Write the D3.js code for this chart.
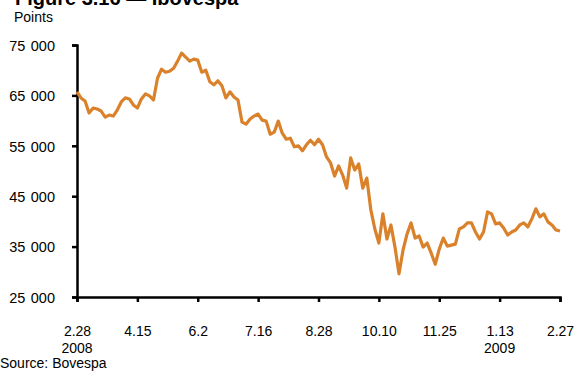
<!DOCTYPE html>
<html>
<head>
<meta charset="utf-8">
<script src="https://cdn.jsdelivr.net/npm/d3@7"></script>
<style>
  body { margin: 0; background: #fff; }
  svg { display: block; font-family: "Liberation Sans", Arial, sans-serif; }
  .axis path, .axis line { stroke: #000; stroke-width: 2.5; }
  .axis text { font-size: 14px; fill: #000; }
  .y-axis text { font-size: 14.5px; word-spacing: 1.5px; }
</style>
</head>
<body>
<svg id="chart"></svg>
<script>
// Ibovespa closing level, sampled every second trading day from 2.28.2008 to 2.27.2009
const values = [
  65700, 64500, 63900, 61500, 62500, 62300, 61900, 60700, 61100, 60900,
  62100, 63700, 64500, 64300, 63100, 62500, 64300, 65300, 64900, 64100,
  68400, 70200, 69600, 69800, 70400, 71800, 73400, 72600, 71800, 72200,
  72000, 69600, 70000, 67700, 67100, 67900, 66900, 64500, 65700, 64700,
  64100, 59700, 59300, 60300, 60900, 61300, 60100, 59900, 57300, 57700,
  59900, 57500, 56300, 56500, 54800, 55000, 54000, 55200, 56100, 55200,
  56300, 55200, 52800, 51600, 49000, 51000, 49200, 46600, 52600, 50200,
  51400, 46600, 48600, 42300, 38500, 35700, 41500, 36500, 39300, 34900,
  29600, 34300, 37500, 39700, 36700, 37100, 34900, 35700, 33700, 31500,
  34500, 36700, 35100, 35300, 35500, 38500, 38900, 39700, 39700, 37900,
  36500, 37900, 41900, 41500, 39500, 39700, 38700, 37300, 37900, 38300,
  39300, 39700, 38900, 40500, 42500, 40900, 41500, 39900, 39300, 38300,
  38100
];
const dayStep = 2; // trading days between samples

// x tick labels (every 30 trading days) and year labels
const tickDays = [0, 30, 60, 90, 120, 150, 180, 210, 240];
const tickLabels = ["2.28", "4.15", "6.2", "7.16", "8.28", "10.10", "11.25", "1.13", "2.27"];
const yearLabels = [{day: 0, text: "2008"}, {day: 210, text: "2009"}];

const yTicks = [25000, 35000, 45000, 55000, 65000, 75000];

const width = 578, height = 372;
const margin = {top: 45, right: 18, bottom: 75, left: 77};

const svg = d3.select("#chart")
  .attr("width", width)
  .attr("height", height);

const x = d3.scaleLinear()
  .domain([0, 240])
  .range([margin.left, width - margin.right]);

const y = d3.scaleLinear()
  .domain([25000, 75000])
  .range([height - margin.bottom, margin.top]);

// title, mostly cut off at the top edge
svg.append("text")
  .attr("x", 15).attr("y", 5)
  .style("font-size", "20px").style("font-weight", "bold")
  .text("Figure 3.16 — Ibovespa");

svg.append("text")
  .attr("x", 14).attr("y", 22)
  .style("font-size", "14px")
  .text("Points");

// axes
const fmt = d => d3.format(",")(d).replace(",", " ");

svg.append("g")
  .attr("class", "axis y-axis")
  .attr("transform", `translate(${margin.left},0)`)
  .call(d3.axisLeft(y).tickValues(yTicks).tickFormat(fmt).tickSize(5).tickPadding(17))
  .call(g => g.selectAll("text").attr("dy", "0.36em"));

const xAxisG = svg.append("g")
  .attr("class", "axis x-axis")
  .attr("transform", `translate(0,${height - margin.bottom})`)
  .call(d3.axisBottom(x).tickValues(tickDays).tickFormat((d, i) => tickLabels[i]).tickSize(5));

xAxisG.selectAll("text")
  .attr("y", 39)
  .attr("dy", 0);

xAxisG.selectAll(".year")
  .data(yearLabels)
  .join("text")
  .attr("class", "year")
  .attr("x", d => x(d.day))
  .attr("y", 56)
  .attr("text-anchor", "middle")
  .attr("fill", "#000")
  .text(d => d.text);

// the line
const line = d3.line()
  .x((d, i) => x(i * dayStep))
  .y(d => y(d));

svg.append("path")
  .datum(values)
  .attr("fill", "none")
  .attr("stroke", "#DA822B")
  .attr("stroke-width", 3.2)
  .attr("stroke-linejoin", "round")
  .attr("d", line);

svg.append("text")
  .attr("x", 0).attr("y", 368)
  .style("font-size", "14px")
  .text("Source: Bovespa");
</script>
</body>
</html>
